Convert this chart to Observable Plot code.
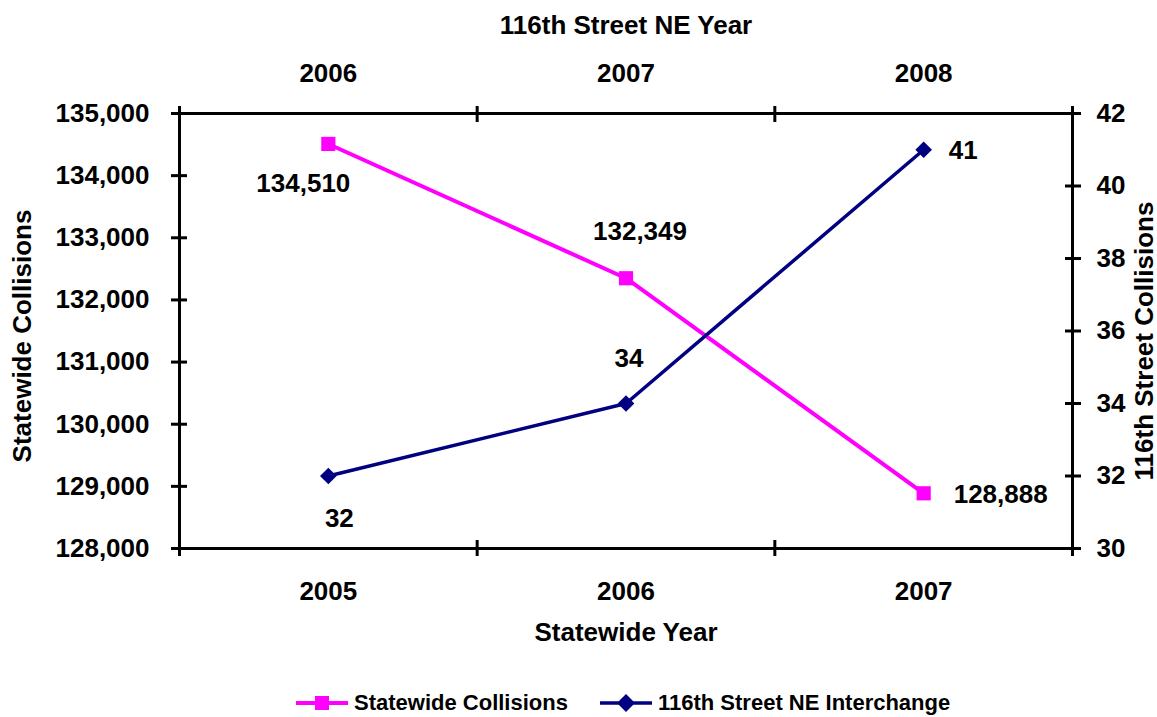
<!DOCTYPE html>
<html>
<head>
<meta charset="utf-8">
<script src="https://cdn.jsdelivr.net/npm/d3@7"></script>
<script src="https://cdn.jsdelivr.net/npm/@observablehq/plot@0.6"></script>
<style>
  body { margin: 0; background: #fff; font-family: "Liberation Sans", Arial, sans-serif; }
  #chart { width: 1157px; }
  #legend { position: relative; height: 45px; width: 1157px; font-size: 22px; font-weight: bold; }
  .item { position: absolute; top: 18px; display: flex; align-items: center; height: 26px; }
  .item svg { margin-right: 6px; }
</style>
</head>
<body>
<div id="chart"></div>
<div id="legend"></div>
<script>
// Collision counts: statewide totals (left axis, bottom years)
// and the 116th Street NE interchange (right axis, top years).
const statewideYears = ["2005", "2006", "2007"];
const streetYears = ["2006", "2007", "2008"];
const statewideCollisions = [134510, 132349, 128888];
const streetCollisions = [32, 34, 41];

const statewideTicks = [128000, 129000, 130000, 131000, 132000, 133000, 134000, 135000];
const streetTicks = [30, 32, 34, 36, 38, 40, 42];
const statewideDomain = [128000, 135000];
const streetDomain = [30, 42];

const seriesNames = ["Statewide Collisions", "116th Street NE Interchange"];
const seriesColors = ["#FF00FF", "#000080"];

// The right axis shares the plot's y scale through a linear mapping.
const toLeft = d3.scaleLinear(streetDomain, statewideDomain);

const statewideRows = statewideYears.map((year, i) => ({ i, year, value: statewideCollisions[i] }));
const streetRows = streetYears.map((year, i) => ({ i, year, value: streetCollisions[i] }));

const xPos = (d) => d.i + 0.5;
const fmt = d3.format(",");

function valueLabel(rows, i, y, text, dx, dy, anchor = "middle") {
  return Plot.text([rows[i]], { x: xPos, y, text, dx, dy, textAnchor: anchor, fill: "black" });
}

function title(label, frameAnchor, options) {
  return Plot.text([label], { text: (d) => d, frameAnchor, textAnchor: "middle", lineAnchor: "middle", ...options });
}

const chart = Plot.plot({
  width: 1157,
  height: 672,
  marginTop: 113,
  marginLeft: 179,
  marginRight: 85,
  marginBottom: 124,
  style: {
    fontFamily: "'Liberation Sans', Arial, sans-serif",
    fontSize: "26px",
    fontWeight: "bold",
    color: "black",
    background: "white",
    overflow: "visible"
  },
  x: { domain: [0, 3] },
  y: { domain: statewideDomain },
  marks: [
    Plot.frame({ stroke: "black", strokeWidth: 3 }),

    // left axis: crossing ticks + labels
    Plot.axisY({ anchor: "left", ticks: statewideTicks, tickSize: 16, dx: 8, strokeWidth: 3, tickFormat: () => "", label: null }),
    Plot.axisY({ anchor: "left", ticks: statewideTicks, tickSize: 0, tickPadding: 30, tickFormat: fmt, label: null }),

    // right axis: crossing ticks + labels
    Plot.axisY({ anchor: "right", ticks: streetTicks.map(toLeft), tickSize: 16, dx: -8, strokeWidth: 3, tickFormat: () => "", label: null }),
    Plot.axisY({ anchor: "right", ticks: streetTicks.map(toLeft), tickSize: 0, tickPadding: 24, tickFormat: (d) => String(Math.round(toLeft.invert(d))), label: null }),

    // bottom axis: category boundaries + year labels
    Plot.axisX({ anchor: "bottom", ticks: [0, 1, 2, 3], tickSize: 16, dy: -8, strokeWidth: 3, tickFormat: () => "", label: null }),
    Plot.axisX({ anchor: "bottom", ticks: [0.5, 1.5, 2.5], tickSize: 0, tickPadding: 33, tickFormat: (d) => statewideYears[Math.floor(d)], label: null }),

    // top axis
    Plot.axisX({ anchor: "top", ticks: [0, 1, 2, 3], tickSize: 16, dy: 8, strokeWidth: 3, tickFormat: () => "", label: null }),
    Plot.axisX({ anchor: "top", ticks: [0.5, 1.5, 2.5], tickSize: 0, tickPadding: 32, tickFormat: (d) => streetYears[Math.floor(d)], label: null }),

    // axis titles
    title("Statewide Year", "bottom", { dy: 84 }),
    title("116th Street NE Year", "top", { dy: -88 }),
    title("Statewide Collisions", "left", { rotate: -90, dx: -157, dy: 5 }),
    title("116th Street Collisions", "right", { rotate: -90, dx: 72, dy: 10 }),

    // statewide series
    Plot.line(statewideRows, { x: xPos, y: "value", stroke: seriesColors[0], strokeWidth: 4 }),
    Plot.dot(statewideRows, { x: xPos, y: "value", symbol: "square", r: 8, fill: seriesColors[0], stroke: "none" }),

    // interchange series
    Plot.line(streetRows, { x: xPos, y: (d) => toLeft(d.value), stroke: seriesColors[1], strokeWidth: 3.5 }),
    Plot.dot(streetRows, { x: xPos, y: (d) => toLeft(d.value), symbol: "diamond2", r: 7.5, fill: seriesColors[1], stroke: "none" }),

    // value labels
    valueLabel(statewideRows, 0, "value", (d) => fmt(d.value), -25, 40),
    valueLabel(statewideRows, 1, "value", (d) => fmt(d.value), 14, -47),
    valueLabel(statewideRows, 2, "value", (d) => fmt(d.value), 30, 1, "start"),
    valueLabel(streetRows, 0, (d) => toLeft(d.value), (d) => String(d.value), 11, 43),
    valueLabel(streetRows, 1, (d) => toLeft(d.value), (d) => String(d.value), 3, -45),
    valueLabel(streetRows, 2, (d) => toLeft(d.value), (d) => String(d.value), 25, 1, "start")
  ]
});
document.getElementById("chart").append(chart);

// Legend below the chart
const legend = document.getElementById("legend");
const legendLeft = [296, 600];
const legendSymbols = ["M-7,-7H7V7H-7Z", "M0,-9L9,0L0,9L-9,0Z"];
seriesNames.forEach((name, k) => {
  const item = document.createElement("div");
  item.className = "item";
  item.style.left = legendLeft[k] + "px";
  item.innerHTML =
    `<svg width="52" height="20" viewBox="0 0 52 20">
       <line x1="0" y1="10" x2="52" y2="10" stroke="${seriesColors[k]}" stroke-width="${k ? 3.5 : 4}"/>
       <path transform="translate(26,10)" d="${legendSymbols[k]}" fill="${seriesColors[k]}"/>
     </svg><span>${name}</span>`;
  legend.append(item);
});
</script>
</body>
</html>
